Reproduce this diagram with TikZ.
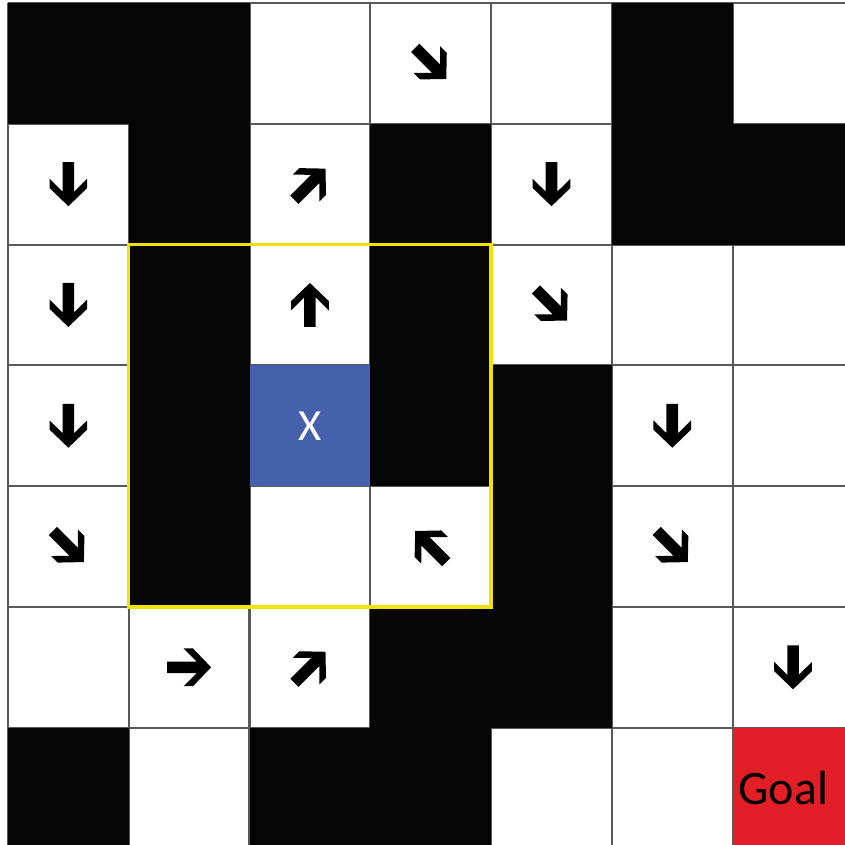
\documentclass[tikz,border=0pt]{standalone}
\usepackage{fontspec}
\setmainfont{Carlito}

\definecolor{azulX}{RGB}{70,97,172}
\definecolor{rojoGoal}{RGB}{226,30,38}
\definecolor{amarillo}{RGB}{238,228,0}

\tikzset{
  rejilla/.style={draw=black!65, line width=0.5pt},
  muro/.style={fill=black!98},
  flecha/.pic={
    \fill[black] (0,0.182) -- (0.156,0.032) -- (0.156,-0.045) -- (0.048,0.062)
      -- (0.048,-0.182) -- (-0.048,-0.182) -- (-0.048,0.062) -- (-0.156,-0.045)
      -- (-0.156,0.032) -- cycle;
  }
}

\begin{document}
\begin{tikzpicture}

\useasboundingbox (-0.066,0.03) rectangle (6.93,7.025);
\fill[white] (-0.066,0.03) rectangle (6.93,7.025);

\draw[rejilla] (0,0) grid (7,7);

% paredes
\fill[muro] (0,6) rectangle (2,7);
\fill[muro] (5,5) rectangle (6,7);
\fill[muro] (6,5) rectangle (7,6);
\fill[muro] (1,2) rectangle (2,6);
\fill[muro] (3,3) rectangle (4,6);
\fill[muro] (4,1) rectangle (5,4);
\fill[muro] (3,1) rectangle (4,2);
\fill[muro] (0,0) rectangle (1,1);
\fill[muro] (2,0) rectangle (4,1);

% casilla X y meta
\fill[azulX] (2,3) rectangle (3,4);
\node[text=white, font=\fontsize{10.5}{12}\selectfont] (agente) at (2.5,3.5) {X};
\fill[rojoGoal] (6,0) rectangle (7,1);
\node[text=black, font=\fontsize{11.3}{13}\selectfont] (meta) at (6.42,0.5) {Goal};

% ventana alrededor de X
\draw[amarillo, line width=0.8pt] (1,2) rectangle (4,5);

% politica
\pic[rotate=-135] at (3.5,6.5) {flecha};
\pic[rotate=180] at (0.5,5.5) {flecha};
\pic[rotate=-45] at (2.5,5.5) {flecha};
\pic[rotate=180] at (4.5,5.5) {flecha};
\pic[rotate=180] at (0.5,4.5) {flecha};
\pic at (2.5,4.5) {flecha};
\pic[rotate=-135] at (4.5,4.5) {flecha};
\pic[rotate=180] at (0.5,3.5) {flecha};
\pic[rotate=180] at (5.5,3.5) {flecha};
\pic[rotate=-135] at (0.5,2.5) {flecha};
\pic[rotate=45] at (3.5,2.5) {flecha};
\pic[rotate=-135] at (5.5,2.5) {flecha};
\pic[rotate=-90] at (1.5,1.5) {flecha};
\pic[rotate=-45] at (2.5,1.5) {flecha};
\pic[rotate=180] at (6.5,1.5) {flecha};

\end{tikzpicture}
\end{document}
